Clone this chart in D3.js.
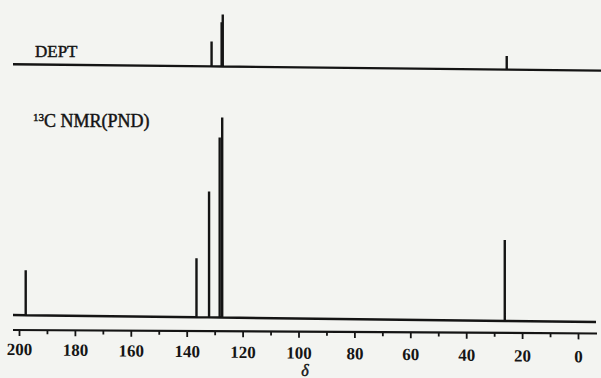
<!DOCTYPE html>
<html>
<head>
<meta charset="utf-8">
<script src="https://cdn.jsdelivr.net/npm/d3@7/dist/d3.min.js"></script>
<style>
  html, body { margin: 0; padding: 0; background: #f3f4f1; }
  svg { display: block; }
  text { font-family: "Liberation Serif", "DejaVu Serif", serif; fill: #151515; }
</style>
</head>
<body>
<svg id="chart" width="601" height="378"></svg>
<script>
// Chemical shift axis (ppm)
const tickValues = [200, 190, 180, 170, 160, 150, 140, 130, 120, 110, 100, 90, 80, 70, 60, 50, 40, 30, 20, 10, 0];
const tickLabels = ["200", "180", "160", "140", "120", "100", "80", "60", "40", "20", "0"];

// Broadband-decoupled 13C spectrum: shifts (ppm) and relative intensities (%)
const carbonShifts = [197.6, 136.5, 132.0, 128.2, 127.3, 26.2];
const carbonIntensity = [22.5, 29.5, 63, 90, 100, 40.5];

// DEPT spectrum: shifts (ppm) and relative intensities (%)
const deptShifts = [131.1, 127.5, 127.1, 25.5];
const deptIntensity = [48, 85, 100, 26];

const svg = d3.select("#chart");
const W = 601, H = 378;
const ink = "#141414";

svg.append("rect").attr("width", W).attr("height", H).attr("fill", "#f3f4f1");

// ppm runs right-to-left
const x = d3.scaleLinear().domain([200, 0]).range([19, 578]);
const lineLeft = 13, lineRight = 597;

// each trace sits on a slightly tilted baseline
const skewDeg = slope => Math.atan(slope) * 180 / Math.PI;

function drawSpectrum(shifts, intens, baseY, slope, fullHeight, right) {
  const y = d3.scaleLinear().domain([0, 100]).range([0, -fullHeight]);
  const g = svg.append("g")
    .attr("transform", `translate(0,${baseY}) skewY(${skewDeg(slope)})`);
  const peaks = shifts.map((s, i) => ({ s, v: intens[i] }))
    .sort((a, b) => b.s - a.s);
  const path = d3.path();
  path.moveTo(lineLeft, 0);
  peaks.forEach(p => {
    const px = x(p.s);
    path.lineTo(px, 0);
    path.lineTo(px, y(p.v));
    path.lineTo(px, 0);
  });
  path.lineTo(right, 0);
  g.append("path")
    .attr("d", path.toString())
    .attr("fill", "none")
    .attr("stroke", ink)
    .attr("stroke-width", 2.4)
    .attr("stroke-linejoin", "miter")
    .attr("stroke-miterlimit", 2);
  return g;
}

// printed labels are slightly ink-spread
const inked = sel => sel.attr("stroke", ink).attr("stroke-width", 0.45);

// DEPT trace
drawSpectrum(deptShifts, deptIntensity, 64.1, 0.0109, 52, 601);
svg.append("text")
  .attr("x", 35).attr("y", 56.7)
  .attr("font-size", 17)
  .call(inked)
  .text("DEPT");

// 13C trace
drawSpectrum(carbonShifts, carbonIntensity, 314.9, 0.012, 200, 596);
const title = svg.append("text")
  .attr("x", 33).attr("y", 127)
  .attr("font-size", 18)
  .call(inked);
title.append("tspan").attr("font-size", 11).attr("dy", -6).text("13");
title.append("tspan").attr("dy", 6).text("C NMR(PND)");

// ppm axis
const axisY0 = 329.9, axisSlope = 0.006;
const axisG = svg.append("g")
  .attr("transform", `translate(0,${axisY0}) skewY(${skewDeg(axisSlope)})`);
axisG.call(
  d3.axisBottom(x)
    .tickValues(tickValues)
    .tickSizeOuter(0)
    .tickSize(4)
    .tickFormat(d => (d % 20 === 0 ? tickLabels[(200 - d) / 20] : ""))
);
axisG.select(".domain").remove();
axisG.append("line")
  .attr("x1", lineLeft).attr("x2", lineRight)
  .attr("y1", 0).attr("y2", 0)
  .attr("stroke", ink).attr("stroke-width", 2.2);
axisG.selectAll(".tick line")
  .attr("stroke", ink)
  .attr("stroke-width", 1.8)
  .attr("y2", d => (d % 20 === 0 ? 6 : 4));
// labels drift slightly lower toward the right
axisG.selectAll(".tick text")
  .attr("font-family", "Liberation Serif, serif")
  .attr("font-size", 17)
  .attr("font-weight", "bold")
  .attr("fill", ink)
  .attr("dy", 0)
  .attr("y", d => {
    const px = x(d);
    return 355 + 0.013 * (px - 19) - axisY0 - axisSlope * px;
  });

svg.append("text")
  .attr("x", 305).attr("y", 376)
  .attr("text-anchor", "middle")
  .attr("font-size", 16)
  .attr("font-style", "italic")
  .call(inked)
  .text("δ");
</script>
</body>
</html>
